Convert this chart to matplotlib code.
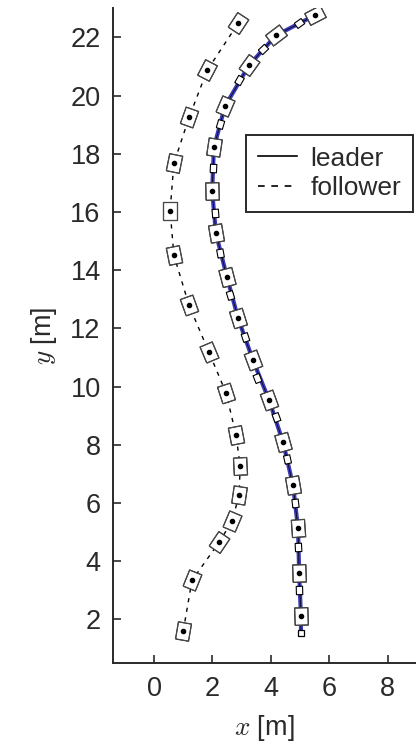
import numpy as np
import matplotlib
matplotlib.use("Agg")
import matplotlib.pyplot as plt
from matplotlib.markers import MarkerStyle
from matplotlib.transforms import Affine2D

plt.rcParams['font.family'] = ['Liberation Sans', 'DejaVu Sans']
plt.rcParams['mathtext.fontset'] = 'cm'

# leader path, big car markers (x, y in m)
leader_x = [5.03, 5.03, 4.97, 4.93, 4.76, 4.42, 3.94, 3.39, 2.88, 2.50, 2.12,
            1.99, 2.05, 2.43, 3.25, 4.18, 5.51]
leader_y = [1.52, 2.10, 3.58, 5.13, 6.60, 8.08, 9.53, 10.90, 12.34, 13.75, 15.26,
            16.71, 18.22, 19.63, 21.04, 22.07, 22.76]

# small markers on the leader path
small_x = [4.97, 4.93, 4.83, 4.55, 4.18, 3.53, 3.12, 2.60, 2.26, 2.09, 2.02,
           2.26, 2.91, 3.73, 4.97]
small_y = [3.00, 4.47, 5.99, 7.50, 8.94, 10.28, 11.69, 13.13, 14.58, 15.95, 17.50,
           19.01, 20.52, 21.59, 22.48]

# follower path
follower_x = [1.00, 1.30, 2.23, 2.67, 2.91, 2.95, 2.81, 2.47, 1.88, 1.20, 0.68,
              0.55, 0.68, 1.20, 1.82, 2.88]
follower_y = [1.60, 3.34, 4.65, 5.37, 6.26, 7.26, 8.32, 9.77, 11.18, 12.79, 14.51,
              16.05, 17.67, 19.25, 20.87, 22.48]

xticks = [0, 2, 4, 6, 8]
yticks = [2, 4, 6, 8, 10, 12, 14, 16, 18, 20, 22]

car = np.array([[-0.38, -0.5], [0.38, -0.5], [0.38, 0.5], [-0.38, 0.5], [-0.38, -0.5]])
txt = '#2a2a2a'


def heading(xs, ys):
    xs, ys = np.asarray(xs), np.asarray(ys)
    dx, dy = np.gradient(xs), np.gradient(ys)
    return np.degrees(np.arctan2(dy, dx)) - 90


def draw_cars(ax, xs, ys, size, skip_first=False):
    angs = heading(xs, ys)
    for i, (x, y, a) in enumerate(zip(xs, ys, angs)):
        m = MarkerStyle(car, transform=Affine2D().rotate_deg(a))
        if skip_first and i == 0:
            ax.plot(x, y, marker='s', ms=4.5, mfc='white', mec='black', mew=0.9, zorder=5)
            continue
        ax.plot(x, y, marker=m, ms=size, mfc='white', mec='#111111', mew=0.9, zorder=5)
        ax.plot(x, y, marker=MarkerStyle(car * 0.55, transform=Affine2D().rotate_deg(a)),
                ms=size, mfc='none', mec='#555555', mew=0.6, zorder=6)
        ax.plot(x, y, marker='o', ms=3, color='black', zorder=7)


fig = plt.figure(figsize=(4.16, 7.52), dpi=100)
ax = fig.add_axes([0.272, 0.118, 0.728, 0.871])

ax.plot(leader_x, leader_y, color='#3b3bbb', lw=3.0, zorder=2)
ax.plot(leader_x, leader_y, color='black', lw=0.5, zorder=3, label='leader')
ax.plot(follower_x, follower_y, color='black', lw=1.0, ls=(0, (3, 4)), zorder=3,
        label='follower')

sangs = heading(small_x, small_y)
for x, y, a in zip(small_x, small_y, sangs):
    m = MarkerStyle(car, transform=Affine2D().rotate_deg(a))
    ax.plot(x, y, marker=m, ms=6, mfc='white', mec='black', mew=0.8, zorder=4)

draw_cars(ax, leader_x, leader_y, 12.5, skip_first=True)
draw_cars(ax, follower_x, follower_y, 12.5)

ax.set_xlim(-1.4, 8.97)
ax.set_ylim(0.49, 23.0)
ax.set_xticks(xticks)
ax.set_yticks(yticks)
ax.spines['top'].set_visible(False)
ax.spines['right'].set_visible(False)
for s in ['left', 'bottom']:
    ax.spines[s].set_linewidth(1.4)
    ax.spines[s].set_color(txt)
ax.tick_params(direction='in', length=6, width=1.2, labelsize=19.5,
               colors=txt, pad=9)

ax.set_xlabel('$x$ [m]', fontsize=19.5, color=txt, labelpad=8)
ax.set_ylabel('$y$ [m]', fontsize=19.5, color=txt, labelpad=8)

leg = ax.legend(loc='upper right', bbox_to_anchor=(0.99, 0.807), fontsize=19,
                frameon=True, fancybox=False, framealpha=1, edgecolor=txt,
                handlelength=1.5, handletextpad=0.5, borderpad=0.45, labelspacing=0.2,
                borderaxespad=0.0)
leg.get_frame().set_linewidth(1.4)
for t in leg.get_texts():
    t.set_color(txt)
leg_lines = leg.get_lines()
leg_lines[0].set_linewidth(1.2)
leg_lines[1].set_linewidth(1.2)
leg_lines[1].set_dashes([4, 4])

fig.savefig('out.png', dpi=100)
